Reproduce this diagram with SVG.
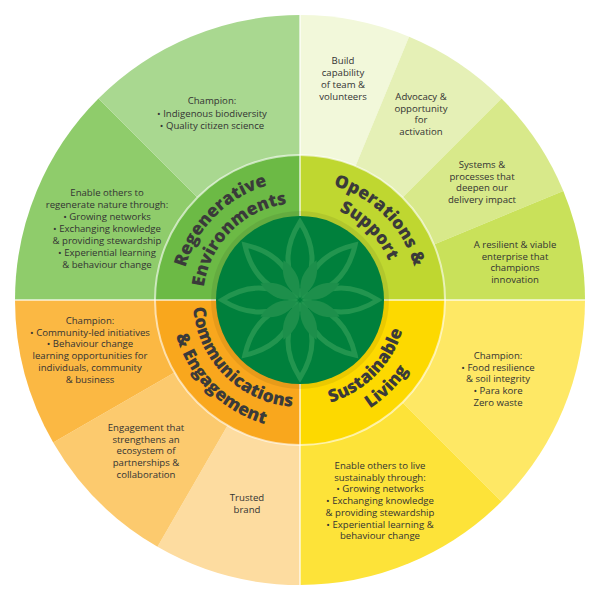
<svg xmlns="http://www.w3.org/2000/svg" width="600" height="600" viewBox="0 0 600 600">
<style>
.t{font-family:"Open Sans","Liberation Sans",sans-serif;font-size:9.6px;fill:#333;text-anchor:middle}
.h{font-family:"Open Sans","Liberation Sans",sans-serif;font-size:17.5px;font-weight:800;fill:#3a3a3a;text-anchor:middle}
.sep{stroke:#fff;stroke-opacity:.6;stroke-width:2;fill:none}
</style>
<defs>
<path id="p1" d="M181,300 A119,119 0 0 1 300,181"/>
<path id="p2" d="M203,300 A97,97 0 0 1 300,203"/>
<path id="p3" d="M300,181 A119,119 0 0 1 419,300"/>
<path id="p4" d="M300,203 A97,97 0 0 1 397,300"/>
<path id="p5" d="M300,407 A107,107 0 0 0 407,300"/>
<path id="p6" d="M300,429 A129,129 0 0 0 429,300"/>
<path id="p7" d="M193,300 A107,107 0 0 0 300,407"/>
<path id="p8" d="M171,300 A129,129 0 0 0 300,429"/>
<path id="lens" d="M0,-6 Q24,-40 0,-78 Q-24,-40 0,-6Z"/>
</defs>
<g id="outer">
<path d="M300,300 L15,300 A285,285 0 0 1 98.5,98.5Z" fill="#8fcc6b"/>
<path d="M300,300 L98.5,98.5 A285,285 0 0 1 300,15Z" fill="#a9d890"/>
<path d="M300,300 L300,15 A285,285 0 0 1 409.1,36.7Z" fill="#f2f8da"/>
<path d="M300,300 L409.1,36.7 A285,285 0 0 1 501.5,98.5Z" fill="#e5f0b6"/>
<path d="M300,300 L501.5,98.5 A285,285 0 0 1 563.3,190.9Z" fill="#d8e98a"/>
<path d="M300,300 L563.3,190.9 A285,285 0 0 1 585,300Z" fill="#c9e15a"/>
<path d="M300,300 L585,300 A285,285 0 0 1 501.5,501.5Z" fill="#fee865"/>
<path d="M300,300 L501.5,501.5 A285,285 0 0 1 300,585Z" fill="#fde339"/>
<path d="M300,300 L300,585 A285,285 0 0 1 157.5,546.8Z" fill="#fddca0"/>
<path d="M300,300 L157.5,546.8 A285,285 0 0 1 53.2,442.5Z" fill="#fcca6e"/>
<path d="M300,300 L53.2,442.5 A285,285 0 0 1 15,300Z" fill="#fbb843"/>
</g>
<g id="inner">
<path d="M300,300 L155,300 A145,145 0 0 1 300,155Z" fill="#6cba45"/>
<path d="M300,300 L300,155 A145,145 0 0 1 445,300Z" fill="#bfd730"/>
<path d="M300,300 L445,300 A145,145 0 0 1 300,445Z" fill="#fdd900"/>
<path d="M300,300 L300,445 A145,145 0 0 1 155,300Z" fill="#f9a71d"/>
<circle cx="300" cy="300" r="145" class="sep" stroke-width="2.5"/>
<line x1="300" y1="15" x2="300" y2="585" class="sep"/>
<line x1="15" y1="300" x2="585" y2="300" class="sep"/>
</g>
<g id="center">
<circle cx="300" cy="300" r="89" fill="#000" fill-opacity=".07"/>
<circle cx="300" cy="300" r="84" fill="#00803c"/>
<g transform="translate(300,300)" fill="none" stroke="#22954f" stroke-width="5">
<use href="#lens"/><use href="#lens" transform="rotate(45)"/><use href="#lens" transform="rotate(90)"/><use href="#lens" transform="rotate(135)"/>
<use href="#lens" transform="rotate(180)"/><use href="#lens" transform="rotate(225)"/><use href="#lens" transform="rotate(270)"/><use href="#lens" transform="rotate(315)"/>
</g>
<g transform="translate(300,300) scale(.55)" fill="#1d8f4b">
<use href="#lens" transform="rotate(22.5)"/><use href="#lens" transform="rotate(67.5)"/><use href="#lens" transform="rotate(112.5)"/><use href="#lens" transform="rotate(157.5)"/>
<use href="#lens" transform="rotate(202.5)"/><use href="#lens" transform="rotate(247.5)"/><use href="#lens" transform="rotate(292.5)"/><use href="#lens" transform="rotate(337.5)"/>
</g>
</g>
<g id="labels">
<text class="h"><textPath href="#p1" startOffset="50%">Regenerative</textPath></text>
<text class="h"><textPath href="#p2" startOffset="50%">Environments</textPath></text>
<text class="h"><textPath href="#p3" startOffset="50%">Operations &amp;</textPath></text>
<text class="h"><textPath href="#p4" startOffset="50%">Support</textPath></text>
<text class="h"><textPath href="#p5" startOffset="50%">Sustainable</textPath></text>
<text class="h"><textPath href="#p6" startOffset="50%">Living</textPath></text>
<text class="h"><textPath href="#p7" startOffset="50%">Communications</textPath></text>
<text class="h"><textPath href="#p8" startOffset="50%">&amp; Engagement</textPath></text>
</g>
<g id="texts">
<text class="t" x="212" y="104"><tspan x="212">Champion:</tspan><tspan x="212" dy="12.5">• Indigenous biodiversity</tspan><tspan x="212" dy="12.5">• Quality citizen science</tspan></text>
<text class="t" y="196"><tspan x="107">Enable others to</tspan><tspan x="107" dy="12">regenerate nature through:</tspan><tspan x="107" dy="12">• Growing networks</tspan><tspan x="107" dy="12">• Exchanging knowledge</tspan><tspan x="107" dy="12">&amp; providing stewardship</tspan><tspan x="107" dy="12">• Experiential learning</tspan><tspan x="107" dy="12">&amp; behaviour change</tspan></text>
<text class="t" y="64"><tspan x="343">Build</tspan><tspan x="343" dy="12">capability</tspan><tspan x="343" dy="12">of team &amp;</tspan><tspan x="343" dy="12">volunteers</tspan></text>
<text class="t" y="100"><tspan x="421">Advocacy &amp;</tspan><tspan x="421" dy="11.7">opportunity</tspan><tspan x="421" dy="11.7">for</tspan><tspan x="421" dy="11.7">activation</tspan></text>
<text class="t" y="168"><tspan x="482">Systems &amp;</tspan><tspan x="482" dy="11.7">processes that</tspan><tspan x="482" dy="11.7">deepen our</tspan><tspan x="482" dy="11.7">delivery impact</tspan></text>
<text class="t" y="248"><tspan x="515">A resilient &amp; viable</tspan><tspan x="515" dy="11.7">enterprise that</tspan><tspan x="515" dy="11.7">champions</tspan><tspan x="515" dy="11.7">innovation</tspan></text>
<text class="t" y="359"><tspan x="498">Champion:</tspan><tspan x="498" dy="11.7">• Food resilience</tspan><tspan x="498" dy="11.7">&amp; soil integrity</tspan><tspan x="498" dy="11.7">• Para kore</tspan><tspan x="498" dy="11.7">Zero waste</tspan></text>
<text class="t" y="469"><tspan x="380">Enable others to live</tspan><tspan x="380" dy="11.7">sustainably through:</tspan><tspan x="380" dy="11.7">• Growing networks</tspan><tspan x="380" dy="11.7">• Exchanging knowledge</tspan><tspan x="380" dy="11.7">&amp; providing stewardship</tspan><tspan x="380" dy="11.7">• Experiential learning &amp;</tspan><tspan x="380" dy="11.7">behaviour change</tspan></text>
<text class="t" y="324"><tspan x="90">Champion:</tspan><tspan x="90" dy="11.7">• Community-led initiatives</tspan><tspan x="90" dy="11.7">• Behaviour change</tspan><tspan x="90" dy="11.7">learning opportunities for</tspan><tspan x="90" dy="11.7">individuals, community</tspan><tspan x="90" dy="11.7">&amp; business</tspan></text>
<text class="t" y="431"><tspan x="146">Engagement that</tspan><tspan x="146" dy="11.7">strengthens an</tspan><tspan x="146" dy="11.7">ecosystem of</tspan><tspan x="146" dy="11.7">partnerships &amp;</tspan><tspan x="146" dy="11.7">collaboration</tspan></text>
<text class="t" y="501"><tspan x="247">Trusted</tspan><tspan x="247" dy="11.7">brand</tspan></text>
</g>
</svg>
